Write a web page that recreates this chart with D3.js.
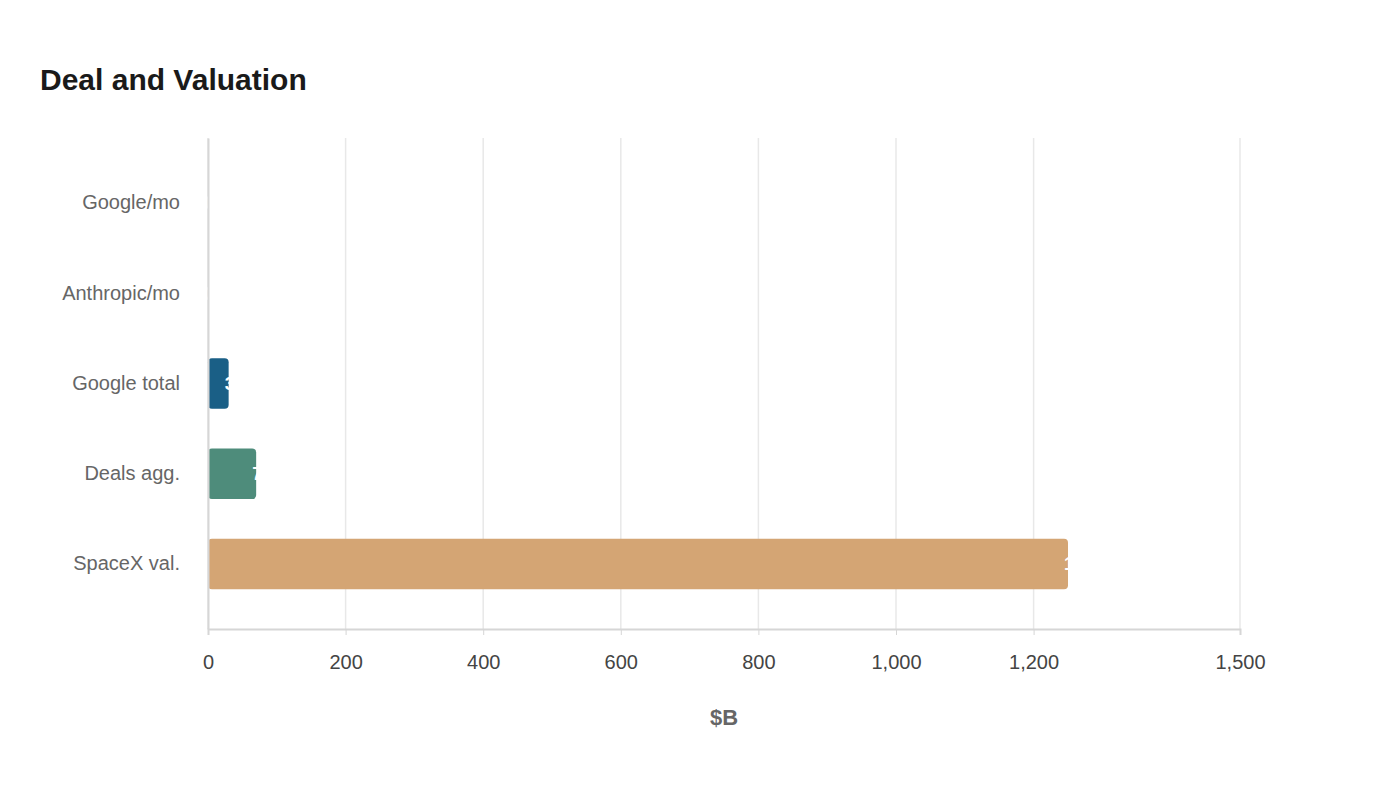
<!DOCTYPE html>
<html><head><meta charset="utf-8">
<script src="https://cdn.jsdelivr.net/npm/d3@7"></script>
<style>body{margin:0;background:#fff;font-family:"Liberation Sans",Arial,sans-serif;}</style>
</head><body>
<svg id="c" width="1400" height="800"></svg>
<script>
var categories = ["Google/mo", "Anthropic/mo", "Google total", "Deals agg.", "SpaceX val."];
var values = [0.8, 0.1, 30, 70, 1250];
var colors = ["#5a6b7a", "#c9a27a", "#1a5f86", "#4e8c7b", "#d4a574"];
var tickValues = [0, 200, 400, 600, 800, 1000, 1200, 1500];

var svg = d3.select("#c");
var margin = {left:208, right:160, top:138, bottom:171};
var w = 1400 - margin.left - margin.right, h = 800 - margin.top - margin.bottom;

svg.append("text").attr("x", 40).attr("y", 90).attr("font-size", 30).attr("font-weight", "bold")
   .attr("fill", "#1a1a1a").text("Deal and Valuation");

var x = d3.scaleLinear().domain([0, 1500]).range([0, w]);
var y = d3.scaleBand().domain(categories).range([0, h]).padding(0.44);
var g = svg.append("g").attr("transform", "translate(" + margin.left + "," + margin.top + ")");

g.selectAll(".grid").data(tickValues).enter().append("line")
  .attr("x1", function(d){ return x(d); }).attr("x2", function(d){ return x(d); })
  .attr("y1", 0).attr("y2", h).attr("stroke", "#e8e8e8").attr("stroke-width", 1.5);

g.selectAll(".bar").data(values).enter().append("rect")
  .attr("x", 0).attr("y", function(d, i){ return y(categories[i]); })
  .attr("width", function(d){ return Math.max(x(d), 0.5); })
  .attr("height", y.bandwidth()).attr("rx", function(d){ return x(d) > 10 ? 4 : 0; })
  .attr("fill", function(d, i){ return colors[i]; });

g.selectAll(".lbl").data(values).enter().append("text")
  .attr("x", function(d){ return x(d) - 4; })
  .attr("y", function(d, i){ return y(categories[i]) + y.bandwidth()/2; })
  .attr("dy", "0.35em").attr("fill", "#fff").attr("font-size", 18).attr("font-weight", "bold")
  .text(function(d){ return d3.format(",")(d); });

var ya = g.append("g").call(d3.axisLeft(y).tickSize(0).tickPadding(28));
ya.select(".domain").attr("stroke", "#d6d6d6").attr("stroke-width", 2);
ya.selectAll("text").attr("font-size", 20).attr("fill", "#666").attr("font-family", "Liberation Sans, Arial, sans-serif");

var xa = g.append("g").attr("transform", "translate(0," + h + ")")
  .call(d3.axisBottom(x).tickValues(tickValues).tickSize(6).tickPadding(20).tickFormat(d3.format(",")));
xa.select(".domain").attr("stroke", "#d6d6d6").attr("stroke-width", 2);
xa.selectAll(".tick line").attr("stroke", "#d6d6d6");
xa.selectAll("text").attr("font-size", 20).attr("fill", "#444").attr("font-family", "Liberation Sans, Arial, sans-serif");

svg.append("text").attr("x", margin.left + w/2).attr("y", 725).attr("text-anchor", "middle")
  .attr("font-size", 22).attr("font-weight", "bold").attr("fill", "#666").text("$B");
</script>
</body></html>
